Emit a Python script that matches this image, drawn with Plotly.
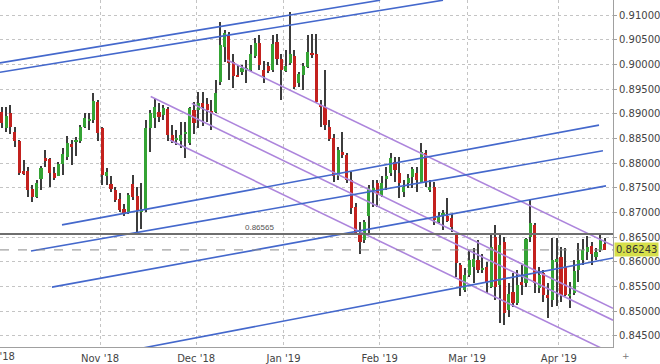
import pandas as pd
import plotly.graph_objects as go

# ---- data -------------------------------------------------------------
dates = [d for d in pd.bdate_range("2018-10-01", "2019-04-15")
         if d.strftime("%Y-%m-%d") not in ("2018-12-25", "2019-01-01")]

open_ = [0.8904,0.8871,0.8901,0.8864,0.8845,0.8784,0.8784,0.8747,0.8732,0.8767,
         0.8810,0.8808,0.8780,0.8775,0.8798,0.8813,0.8838,0.8844,0.8844,0.8874,
         0.8887,0.8887,0.8924,0.8871,0.8773,0.8757,0.8746,0.8727,0.8707,0.8702,
         0.8758,0.8733,0.8703,0.8705,0.8871,0.8891,0.8904,0.8898,0.8909,0.8857,
         0.8847,0.8844,0.8860,0.8840,0.8908,0.8908,0.8922,0.8920,0.8904,0.8904,
         0.8965,0.9036,0.9060,0.9005,0.8979,0.8985,0.8989,0.8989,0.9016,0.9043,
         0.8989,0.8997,0.8989,0.9046,0.9010,0.8987,0.9002,0.9016,0.8962,0.8979,
         0.8995,0.9024,0.9022,0.8918,0.8914,0.8873,0.8850,0.8773,0.8823,0.8817,
         0.8766,0.8712,0.8655,0.8644,0.8692,0.8746,0.8759,0.8736,0.8769,0.8780,
         0.8803,0.8780,0.8742,0.8759,0.8771,0.8781,0.8761,0.8821,0.8746,0.8752,
         0.8681,0.8695,0.8693,0.8688,0.8655,0.8594,0.8543,0.8574,0.8590,0.8604,
         0.8584,0.8590,0.8550,0.8651,0.8553,0.8641,0.8503,0.8540,0.8516,0.8559,
         0.8557,0.8651,0.8675,0.8547,0.8577,0.8533,0.8523,0.8600,0.8610,0.8590,
         0.8530,0.8538,0.8584,0.8604,0.8621,0.8632,0.8609,0.8624,0.8636]
high = [0.8914,0.8913,0.8918,0.8874,0.8847,0.8806,0.8793,0.8756,0.8766,0.8794,
        0.8827,0.8810,0.8793,0.8803,0.8830,0.8855,0.8847,0.8853,0.8877,0.8901,
        0.8901,0.8942,0.8928,0.8874,0.8790,0.8773,0.8752,0.8739,0.8718,0.8739,
        0.8776,0.8752,0.8760,0.8887,0.8908,0.8931,0.8921,0.8918,0.8914,0.8877,
        0.8867,0.8884,0.8884,0.8914,0.8924,0.8945,0.8945,0.8931,0.8928,0.8968,
        0.9086,0.9070,0.9066,0.9022,0.8999,0.8999,0.9009,0.9039,0.9054,0.9060,
        0.9007,0.9005,0.9060,0.9061,0.9022,0.9029,0.9107,0.9029,0.8985,0.9002,
        0.9060,0.9062,0.9062,0.8928,0.8989,0.8887,0.8860,0.8833,0.8864,0.8820,
        0.8783,0.8719,0.8681,0.8685,0.8756,0.8766,0.8766,0.8773,0.8793,0.8820,
        0.8813,0.8813,0.8766,0.8779,0.8793,0.8793,0.8841,0.8827,0.8766,0.8762,
        0.8702,0.8705,0.8729,0.8698,0.8658,0.8597,0.8587,0.8624,0.8628,0.8644,
        0.8617,0.8600,0.8655,0.8675,0.8655,0.8651,0.8557,0.8577,0.8584,0.8594,
        0.8648,0.8725,0.8678,0.8590,0.8584,0.8557,0.8648,0.8649,0.8631,0.8628,
        0.8560,0.8604,0.8638,0.8646,0.8652,0.8641,0.8628,0.8655,0.8648]
low = [0.8871,0.8864,0.8860,0.8833,0.8776,0.8776,0.8732,0.8722,0.8729,0.8746,
       0.8793,0.8752,0.8766,0.8773,0.8776,0.8806,0.8796,0.8814,0.8840,0.8871,
       0.8867,0.8881,0.8844,0.8756,0.8756,0.8742,0.8722,0.8702,0.8692,0.8698,
       0.8725,0.8658,0.8667,0.8702,0.8823,0.8871,0.8884,0.8887,0.8844,0.8840,
       0.8837,0.8830,0.8810,0.8837,0.8860,0.8871,0.8875,0.8884,0.8867,0.8901,
       0.8958,0.9005,0.8968,0.8952,0.8974,0.8979,0.8962,0.8985,0.9012,0.8989,
       0.8963,0.8983,0.8985,0.8999,0.8928,0.8985,0.8999,0.8950,0.8955,0.8948,
       0.8992,0.9013,0.8921,0.8874,0.8867,0.8845,0.8762,0.8766,0.8810,0.8759,
       0.8698,0.8655,0.8617,0.8638,0.8655,0.8712,0.8712,0.8732,0.8746,0.8773,
       0.8762,0.8729,0.8732,0.8749,0.8749,0.8742,0.8759,0.8752,0.8742,0.8675,
       0.8678,0.8665,0.8681,0.8661,0.8570,0.8530,0.8540,0.8570,0.8557,0.8577,
       0.8577,0.8537,0.8547,0.8523,0.8476,0.8472,0.8489,0.8509,0.8513,0.8533,
       0.8550,0.8641,0.8537,0.8537,0.8519,0.8486,0.8509,0.8511,0.8519,0.8530,
       0.8506,0.8533,0.8560,0.8594,0.8604,0.8594,0.8604,0.8621,0.8624]
close = [0.8881,0.8896,0.8874,0.8844,0.8780,0.8780,0.8746,0.8732,0.8759,0.8791,
         0.8805,0.8780,0.8769,0.8798,0.8818,0.8841,0.8834,0.8847,0.8874,0.8891,
         0.8890,0.8926,0.8862,0.8776,0.8783,0.8748,0.8725,0.8705,0.8700,0.8736,
         0.8732,0.8705,0.8707,0.8871,0.8901,0.8914,0.8893,0.8911,0.8857,0.8845,
         0.8850,0.8857,0.8864,0.8911,0.8881,0.8921,0.8914,0.8908,0.8902,0.8943,
         0.9039,0.9064,0.9002,0.8977,0.8975,0.8992,0.8991,0.9022,0.9043,0.8999,
         0.8977,0.8987,0.9041,0.9010,0.8989,0.8997,0.9022,0.8954,0.8981,0.8997,
         0.9026,0.9019,0.8924,0.8914,0.8877,0.8848,0.8773,0.8827,0.8817,0.8766,
         0.8709,0.8658,0.8641,0.8681,0.8749,0.8750,0.8736,0.8759,0.8773,0.8810,
         0.8786,0.8759,0.8752,0.8769,0.8788,0.8766,0.8823,0.8761,0.8752,0.8685,
         0.8692,0.8698,0.8683,0.8671,0.8597,0.8550,0.8574,0.8604,0.8605,0.8584,
         0.8587,0.8560,0.8631,0.8550,0.8634,0.8496,0.8536,0.8516,0.8553,0.8555,
         0.8646,0.8679,0.8557,0.8574,0.8533,0.8526,0.8604,0.8606,0.8533,0.8533,
         0.8536,0.8582,0.8604,0.8624,0.8631,0.8617,0.8621,0.8644,0.86243]

# trend lines: (start index, start price, end index, end price)
blue_lines = [
    (-0.4, 0.9003, 86.6, 0.9130),
    (-0.4, 0.8984, 101.0, 0.9130),
    (13.8, 0.8675, 136.7, 0.8877),
    (6.7, 0.8622, 137.6, 0.8825),
    (11.5, 0.8549, 138.3, 0.8754),
    (0.0, 0.8371, 139.9, 0.8608),
]
purple_lines = [
    (51.6, 0.9009, 139.9, 0.8633),
    (43.5, 0.8921, 139.9, 0.8506),
    (34.1, 0.8935, 139.9, 0.8482),
    (38.5, 0.8847, 139.9, 0.8414),
]
level_price = 0.86565
last_price = close[-1]

y_ticks = [0.845, 0.850, 0.855, 0.860, 0.865, 0.870, 0.875, 0.880,
           0.885, 0.890, 0.895, 0.900, 0.905, 0.910]

# ---- figure -----------------------------------------------------------
idx = list(range(len(dates)))
GREEN, RED = "#34a334", "#c3211e"

fig = go.Figure()

# trend lines (under candles)
for x0, y0, x1, y1 in purple_lines:
    fig.add_trace(go.Scatter(x=[x0, x1], y=[y0, y1], mode="lines",
                             line=dict(color="#ad85dc", width=1.6),
                             hoverinfo="skip"))
for x0, y0, x1, y1 in blue_lines:
    fig.add_trace(go.Scatter(x=[x0, x1], y=[y0, y1], mode="lines",
                             line=dict(color="#4468cc", width=1.6),
                             hoverinfo="skip"))

# wicks
fig.add_trace(go.Bar(x=idx, y=[h - l for h, l in zip(high, low)], base=low,
                     width=0.25, marker=dict(color="#3c3c3c", line_width=0),
                     hoverinfo="skip"))
# bodies
body_h = [max(abs(c - o), 0.00008) for o, c in zip(open_, close)]
body_b = [min(o, c) for o, c in zip(open_, close)]
colors = [GREEN if c >= o else RED for o, c in zip(open_, close)]
fig.add_trace(go.Bar(x=idx, y=body_h, base=body_b, width=0.72,
                     marker=dict(color=colors, line_width=0),
                     hoverinfo="skip"))

# month ticks (gridline half a candle before first trading day of month)
tickvals, ticktext = [], []
prev = None
for i, d in enumerate(dates):
    if prev is None or d.month != prev:
        if i > 0:
            tickvals.append(i - 0.5)
            ticktext.append(d.strftime("%b '%y"))
        prev = d.month

shapes = [
    dict(type="line", xref="paper", x0=0, x1=1, yref="y",
         y0=level_price, y1=level_price,
         line=dict(color="#6e6e6e", width=2)),
    dict(type="line", xref="paper", x0=0, x1=1, yref="y",
         y0=last_price, y1=last_price,
         line=dict(color="#8a8a8a", width=1, dash="dash")),
]

annotations = [
    dict(x=59, y=level_price, xref="x", yref="y", text=f"{level_price:.5f}",
         showarrow=False, yshift=7, font=dict(size=8, color="#555",
                                               family="Liberation Sans")),
    dict(x=1, y=last_price, xref="paper", yref="y", text=f"{last_price:.5f}",
         showarrow=False, xanchor="left", xshift=1,
         bgcolor="#d6df4a", borderpad=1,
         font=dict(size=10, color="#333", family="DejaVu Sans")),
    dict(x=0, y=0, xref="paper", yref="paper", text=dates[0].strftime("%b '%y"),
         showarrow=False, xanchor="center", yanchor="top", xshift=-3, yshift=-2,
         font=dict(size=10, color="#444", family="DejaVu Sans")),
    dict(x=1, y=0, xref="paper", yref="paper", text="+",
         showarrow=False, xanchor="center", yanchor="top", xshift=13, yshift=-2,
         font=dict(size=9, color="#777", family="DejaVu Sans")),
]

fig.update_layout(
    width=660, height=364, autosize=False,
    margin=dict(l=0, r=47, t=0, b=17),
    paper_bgcolor="white", plot_bgcolor="white",
    showlegend=False, barmode="overlay", bargap=0,
    shapes=shapes, annotations=annotations,
    font=dict(family="DejaVu Sans", size=10, color="#444"),
)
fig.update_xaxes(range=[-0.39, 139.9], tickvals=tickvals, ticktext=ticktext,
                 showgrid=True, gridcolor="#c4c4c4", griddash="dot", gridwidth=1,
                 showline=True, linecolor="#a0a0a0", linewidth=1,
                 ticks="", zeroline=False, tickfont=dict(size=10, color="#444"),
                 ticklabelstandoff=2)
fig.update_yaxes(range=[0.84277, 0.91304], side="right", tickvals=y_ticks,
                 tickformat=".5f",
                 showgrid=True, gridcolor="#c4c4c4", griddash="dot", gridwidth=1,
                 showline=True, linecolor="#a0a0a0", linewidth=1,
                 ticks="outside", ticklen=3, tickcolor="#a0a0a0",
                 zeroline=False, tickfont=dict(size=10, color="#444"))

fig.write_html("out.html")
